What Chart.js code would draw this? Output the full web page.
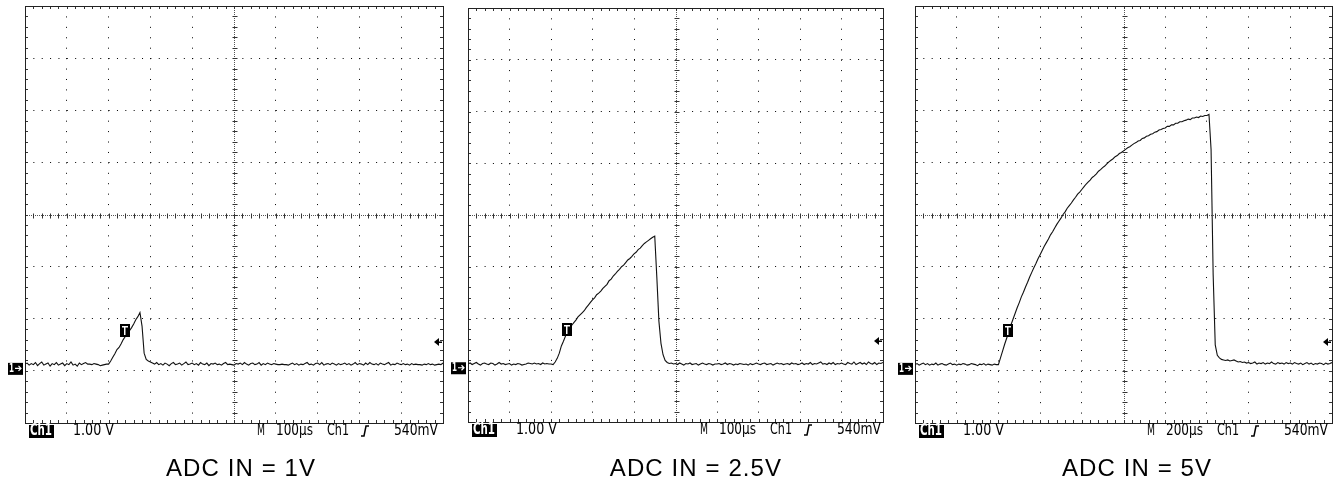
<!DOCTYPE html>
<html>
<head>
<meta charset="utf-8">
<script src="https://cdn.jsdelivr.net/npm/chart.js@4.4.1/dist/chart.umd.min.js"></script>
<style>
  html, body { margin: 0; padding: 0; background: #fff; }
  body { width: 1333px; height: 485px; position: relative; overflow: hidden; }
  canvas { position: absolute; top: 0; }
  .caption {
    position: absolute; top: 457px; line-height: 22px;
    font-family: 'Liberation Sans', Arial, Helvetica, sans-serif; font-size: 24px;
    letter-spacing: 1.1px;
    color: #000; white-space: nowrap; transform: translateX(-50%);
  }
</style>
</head>
<body>
<canvas id="scope1" width="445" height="485" style="left:0px"></canvas>
<canvas id="scope2" width="445" height="485" style="left:443px"></canvas>
<canvas id="scope3" width="443" height="485" style="left:890px"></canvas>
<div class="caption" id="cap1" style="left:241px"></div>
<div class="caption" id="cap2" style="left:696px"></div>
<div class="caption" id="cap3" style="left:1137px"></div>
<script>
// captions under each screenshot
const captions = ['ADC IN = 1V', 'ADC IN = 2.5V', 'ADC IN = 5V'];

// scope settings
const timebaseLabels = ['100µs', '100µs', '200µs'];
const usPerDiv = [100, 100, 200];
const sampleStepUs = [5, 5, 10];
const triggerUs = [239, 238, 445];
const TRIGGER_LEVEL_V = 0.54;
const VOLT_LABEL = '1.00 V';
const TRIG_LABEL = '540mV';

// Ch1 samples in volts (one every sampleStepUs)
const trace1V = [
  0.13,0.15,0.11,0.14,0.12,0.16,0.10,0.14,0.17,0.11,0.13,0.15,0.09,0.14,0.12,0.16,0.11,0.13,0.15,0.10,
  0.14,0.12,0.17,0.11,0.13,0.09,0.15,0.12,0.14,0.16,0.13,0.13,0.12,0.14,0.13,0.12,0.10,0.11,0.12,0.13,
  0.13,0.19,0.26,0.33,0.41,0.45,0.52,0.60,0.66,0.72,0.77,0.83,0.90,0.98,1.04,1.12,0.86,0.34,0.22,0.19,
  0.17,0.15,0.13,0.16,0.12,0.14,0.11,0.15,0.13,0.10,0.14,0.16,0.12,0.13,0.15,0.11,0.14,0.17,0.12,0.13,
  0.15,0.12,0.14,0.11,0.16,0.13,0.12,0.15,0.10,0.14,0.13,0.15,0.12,0.13,0.11,0.14,0.16,0.12,0.13,0.12,
  0.11,0.14,0.13,0.15,0.12,0.16,0.13,0.11,0.14,0.15,0.12,0.13,0.16,0.11,0.14,0.12,0.15,0.13,0.12,0.14,
  0.13,0.12,0.12,0.13,0.12,0.12,0.11,0.13,0.15,0.12,0.14,0.11,0.13,0.12,0.14,0.16,0.12,0.13,0.11,0.14,
  0.15,0.12,0.16,0.11,0.13,0.14,0.12,0.15,0.13,0.11,0.14,0.12,0.13,0.15,0.12,0.14,0.11,0.13,0.16,0.12,
  0.14,0.13,0.11,0.15,0.12,0.16,0.13,0.12,0.14,0.11,0.15,0.13,0.12,0.14,0.16,0.11,0.13,0.12,0.15,0.13,
  0.12,0.14,0.12,0.13,0.11,0.14,0.12,0.13,0.12,0.12,0.11,0.13,0.12,0.14,0.12,0.13,0.11,0.12,0.13,0.12,
  0.15
];
const trace2V = [
  0.12,0.14,0.11,0.13,0.15,0.12,0.10,0.13,0.14,0.12,0.11,0.14,0.13,0.10,0.12,0.15,0.12,0.13,0.11,0.12,
  0.13,0.10,0.12,0.11,0.13,0.12,0.10,0.11,0.12,0.14,0.13,0.12,0.14,0.12,0.13,0.11,0.14,0.12,0.13,0.12,
  0.12,0.11,0.16,0.23,0.33,0.47,0.56,0.66,0.74,0.80,0.87,0.92,0.97,1.03,1.07,1.11,1.15,1.21,1.26,1.31,
  1.36,1.40,1.46,1.49,1.53,1.58,1.62,1.66,1.73,1.76,1.82,1.86,1.91,1.95,2.00,2.03,2.08,2.13,2.16,2.20,
  2.25,2.28,2.33,2.36,2.41,2.45,2.48,2.51,2.54,2.57,2.59,1.80,0.95,0.52,0.30,0.19,0.15,0.13,0.14,0.12,
  0.13,0.11,0.14,0.12,0.10,0.13,0.12,0.14,0.11,0.12,0.13,0.10,0.12,0.14,0.12,0.11,0.13,0.12,0.10,0.12,
  0.12,0.13,0.11,0.12,0.14,0.11,0.13,0.12,0.10,0.12,0.11,0.13,0.12,0.11,0.12,0.10,0.13,0.11,0.12,0.14,
  0.12,0.11,0.13,0.14,0.11,0.12,0.13,0.10,0.12,0.14,0.12,0.13,0.11,0.12,0.13,0.11,0.14,0.12,0.13,0.11,
  0.12,0.14,0.11,0.13,0.12,0.15,0.11,0.13,0.12,0.14,0.16,0.12,0.13,0.11,0.14,0.12,0.15,0.11,0.13,0.12,
  0.14,0.12,0.11,0.15,0.13,0.12,0.16,0.11,0.13,0.15,0.12,0.14,0.11,0.16,0.13,0.12,0.15,0.11,0.14,0.13,
  0.15
];
const trace3V = [
  0.12,0.14,0.11,0.13,0.15,0.12,0.14,0.11,0.13,0.12,0.15,0.11,0.13,0.14,0.12,0.11,0.13,0.15,0.12,0.13,
  0.11,0.13,0.12,0.14,0.13,0.11,0.12,0.14,0.13,0.12,0.10,0.13,0.12,0.14,0.11,0.13,0.12,0.11,0.13,0.12,
  0.12,0.25,0.38,0.51,0.63,0.75,0.88,0.99,1.10,1.21,1.31,1.42,1.51,1.61,1.70,1.80,1.89,1.98,2.06,2.15,
  2.23,2.31,2.39,2.46,2.53,2.61,2.67,2.74,2.81,2.87,2.93,3.00,3.05,3.12,3.17,3.22,3.28,3.33,3.39,3.43,
  3.48,3.53,3.58,3.62,3.66,3.71,3.74,3.78,3.83,3.86,3.90,3.93,3.97,4.01,4.04,4.07,4.11,4.13,4.17,4.19,
  4.22,4.25,4.28,4.30,4.33,4.36,4.38,4.41,4.42,4.46,4.47,4.50,4.51,4.54,4.55,4.58,4.59,4.62,4.63,4.65,
  4.66,4.69,4.69,4.72,4.72,4.75,4.75,4.78,4.78,4.80,4.81,4.83,4.82,4.85,4.85,4.87,4.86,4.89,4.88,4.90,
  4.90,4.92,4.25,1.85,0.50,0.30,0.25,0.22,0.21,0.20,0.21,0.19,0.20,0.21,0.19,0.17,0.18,0.16,0.17,0.15,
  0.16,0.14,0.15,0.17,0.13,0.15,0.14,0.16,0.13,0.15,0.14,0.17,0.14,0.13,0.16,0.14,0.15,0.13,0.16,0.14,
  0.15,0.13,0.16,0.14,0.13,0.15,0.12,0.14,0.16,0.13,0.15,0.12,0.14,0.13,0.15,0.14,0.12,0.15,0.13,0.14,
  0.16
];
const traces = [trace1V, trace2V, trace3V];

// screen is 10 x 8 divisions, ground one division above the bottom
const V_MIN = -1, V_MAX = 7;

const SCOPE_FONT = "'DejaVu Sans Condensed', 'Liberation Sans Narrow', sans-serif";

// draws text squeezed/stretched to a given width
function fitText(ctx, text, x, yMid, width, font, color) {
  ctx.save();
  ctx.font = font;
  const w = ctx.measureText(text).width;
  ctx.translate(x, yMid);
  ctx.scale(width / w, 1);
  ctx.fillStyle = color;
  ctx.textBaseline = 'middle';
  ctx.textAlign = 'left';
  ctx.fillText(text, 0, 0);
  ctx.restore();
}

const scopeDecor = {
  id: 'scopeDecor',
  beforeDatasetsDraw(chart, args, opts) {
    const { ctx, chartArea: a, scales: { x, y } } = chart;
    const cx = Math.round(x.getPixelForValue((x.min + x.max) / 2)) + 0.5;
    const cy = Math.round(y.getPixelForValue((y.min + y.max) / 2)) + 0.5;
    ctx.save();
    ctx.lineWidth = 1;
    // centre cross, fine dotted
    ctx.strokeStyle = '#555';
    ctx.setLineDash([1, 1]);
    ctx.beginPath();
    ctx.moveTo(cx, a.top); ctx.lineTo(cx, a.bottom);
    ctx.moveTo(a.left, cy); ctx.lineTo(a.right, cy);
    ctx.stroke();
    ctx.setLineDash([]);
    // minor ticks, 5 per division, on frame and centre cross
    ctx.strokeStyle = '#333';
    ctx.beginPath();
    for (let k = 0; k <= 50; k++) {
      const px = Math.round(x.getPixelForValue(x.min + k * (x.max - x.min) / 50)) + 0.5;
      ctx.moveTo(px, a.top); ctx.lineTo(px, a.top + 3);
      ctx.moveTo(px, a.bottom); ctx.lineTo(px, a.bottom - 3);
      ctx.moveTo(px, cy - 2); ctx.lineTo(px, cy + 3);
    }
    for (let k = 0; k <= 40; k++) {
      const py = Math.round(y.getPixelForValue(y.min + k * (y.max - y.min) / 40)) + 0.5;
      ctx.moveTo(a.left, py); ctx.lineTo(a.left + 3, py);
      ctx.moveTo(a.right, py); ctx.lineTo(a.right - 3, py);
      ctx.moveTo(cx - 2, py); ctx.lineTo(cx + 3, py);
    }
    ctx.stroke();
    // frame
    ctx.strokeStyle = '#222';
    ctx.strokeRect(Math.round(a.left) + 0.5, Math.round(a.top) + 0.5,
      Math.round(a.right - a.left), Math.round(a.bottom - a.top));
    ctx.restore();
  },
  afterDatasetsDraw(chart, args, opts) {
    const { ctx, chartArea: a, scales: { x, y } } = chart;
    const gnd = y.getPixelForValue(0);
    const trig = y.getPixelForValue(TRIGGER_LEVEL_V);
    ctx.save();

    // "1->" ground marker, left of the screen
    ctx.fillStyle = '#000';
    ctx.fillRect(a.left - 17, gnd - 8, 15, 12);
    fitText(ctx, '1', a.left - 16, gnd - 2, 5, 'bold 12px ' + SCOPE_FONT, '#fff');
    ctx.strokeStyle = '#fff';
    ctx.lineWidth = 1.2;
    ctx.beginPath();
    ctx.moveTo(a.left - 10, gnd - 2.5); ctx.lineTo(a.left - 4, gnd - 2.5);
    ctx.moveTo(a.left - 6.5, gnd - 5); ctx.lineTo(a.left - 4, gnd - 2.5); ctx.lineTo(a.left - 6.5, gnd);
    ctx.stroke();

    // trigger level arrow, right edge
    const ty = Math.round(trig) - 1;
    ctx.fillStyle = '#000';
    ctx.beginPath();
    ctx.moveTo(a.right - 9, ty);
    ctx.lineTo(a.right - 4, ty - 4);
    ctx.lineTo(a.right - 4, ty + 4);
    ctx.closePath();
    ctx.fill();
    ctx.fillRect(a.right - 5, ty - 0.5, 4, 1.5);

    // T marker at the trigger point
    const tx = x.getPixelForValue(opts.triggerUs);
    ctx.fillStyle = '#000';
    ctx.fillRect(Math.round(tx) - 5, Math.round(trig) - 19, 10, 13);
    ctx.fillStyle = '#fff';
    ctx.fillRect(Math.round(tx) - 3, Math.round(trig) - 17, 6, 1.5);
    ctx.fillRect(Math.round(tx) - 1, Math.round(trig) - 17, 1.5, 9);

    // readout line under the screen
    const ly = a.bottom + 8;
    const f = '16px ' + SCOPE_FONT;
    ctx.fillStyle = '#000';
    ctx.fillRect(a.left + 4, a.bottom + 2, 25, 13);
    fitText(ctx, 'Ch1', a.left + 5, ly, 22, 'bold ' + f, '#fff');
    fitText(ctx, VOLT_LABEL, a.left + 48, ly, 41, f, '#000');
    fitText(ctx, 'M', a.left + 232, ly, 8, f, '#000');
    fitText(ctx, opts.timebase, a.left + 251, ly, 37, f, '#000');
    fitText(ctx, 'Ch1', a.left + 302, ly, 22, f, '#000');
    // rising edge symbol
    ctx.strokeStyle = '#000';
    ctx.lineWidth = 1.5;
    ctx.beginPath();
    ctx.moveTo(a.left + 336, ly + 5);
    ctx.lineTo(a.left + 339, ly + 5);
    ctx.lineTo(a.left + 341, ly - 5);
    ctx.lineTo(a.left + 344, ly - 5);
    ctx.stroke();
    fitText(ctx, TRIG_LABEL, a.left + 369, ly, 44, f, '#000');
    ctx.restore();
  }
};

const canvasPads = [
  { left: 25, right: 2, top: 6, bottom: 62 },
  { left: 25, right: 5, top: 8, bottom: 63 },
  { left: 25, right: 1, top: 6, bottom: 62 }
];

function makeScope(i) {
  const canvas = document.getElementById('scope' + (i + 1));
  const pad = canvasPads[i];
  const plotW = canvas.width - pad.left - pad.right;
  const plotH = canvas.height - pad.top - pad.bottom;
  const span = usPerDiv[i] * 10;
  const points = traces[i].map((v, k) => ({ x: k * sampleStepUs[i], y: v }));

  return new Chart(canvas, {
    type: 'line',
    data: {
      datasets: [{
        data: points,
        borderColor: '#111',
        borderWidth: 1.1,
        pointRadius: 0,
        tension: 0,
        fill: false
      }]
    },
    options: {
      responsive: false,
      animation: false,
      events: [],
      layout: { padding: pad },
      plugins: {
        legend: { display: false },
        tooltip: { enabled: false },
        scopeDecor: { triggerUs: triggerUs[i], timebase: timebaseLabels[i] }
      },
      scales: {
        x: {
          type: 'linear',
          min: 0,
          max: span,
          ticks: { display: false, stepSize: usPerDiv[i] },
          grid: {
            drawTicks: false,
            lineWidth: 1,
            color: c => (c.tick && c.tick.value === span / 2) ? 'rgba(0,0,0,0)' : '#000'
          },
          border: { display: false, dash: [1, plotH / 40 - 1] }
        },
        y: {
          type: 'linear',
          min: V_MIN,
          max: V_MAX,
          ticks: { display: false, stepSize: 1 },
          grid: {
            drawTicks: false,
            lineWidth: 1,
            color: c => (c.tick && c.tick.value === (V_MIN + V_MAX) / 2) ? 'rgba(0,0,0,0)' : '#000'
          },
          border: { display: false, dash: [1, plotW / 50 - 1] }
        }
      }
    },
    plugins: [scopeDecor]
  });
}

for (let i = 0; i < 3; i++) {
  makeScope(i);
  document.getElementById('cap' + (i + 1)).textContent = captions[i];
}
</script>
</body>
</html>
